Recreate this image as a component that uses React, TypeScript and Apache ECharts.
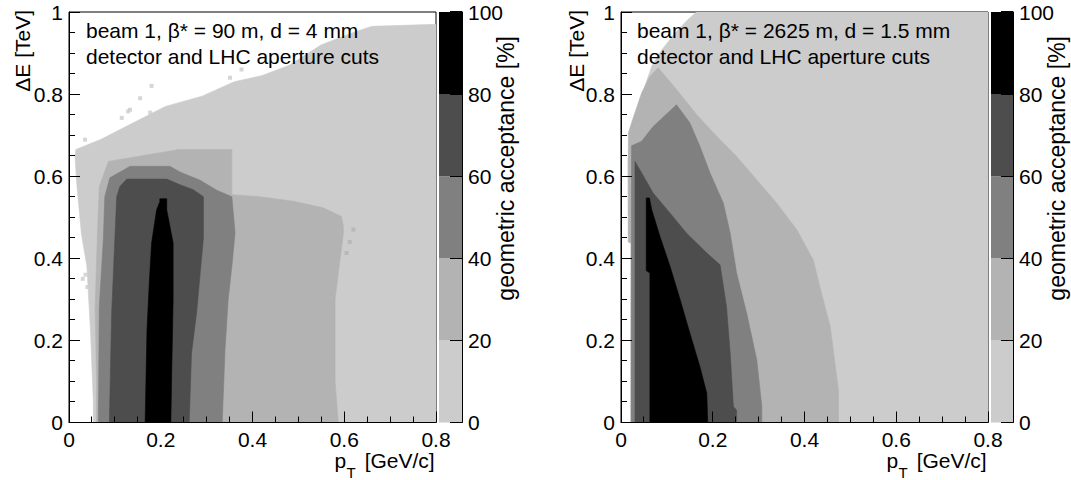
import { useEffect, useRef } from 'react';
import * as echarts from 'echarts';

// acceptance levels (%) and their grey shades
const levelEdges = [0, 20, 40, 60, 80, 100];
const levelColors = ['#cccccc', '#b3b3b3', '#808080', '#4d4d4d', '#000000'];

// ---- left panel: beam 1, beta* = 90 m, d = 4 mm ; region outlines [pT, dE] for acceptance >= level
const left0 = [[0.053, 0], [0.053, 0.05], [0.047, 0.22], [0.039, 0.38], [0.027, 0.46], [0.017, 0.58], [0.013, 0.65], [0.015, 0.665], [0.07, 0.69], [0.14, 0.73], [0.21, 0.77], [0.29, 0.795], [0.36, 0.83], [0.42, 0.845], [0.48, 0.87], [0.55, 0.92], [0.62, 0.95], [0.66, 0.965], [0.8, 0.97], [0.8, 0]];
const left20 = [[0.06, 0], [0.06, 0.1], [0.057, 0.28], [0.062, 0.46], [0.066, 0.575], [0.086, 0.636], [0.24, 0.665], [0.355, 0.665], [0.355, 0.555], [0.416, 0.55], [0.489, 0.539], [0.554, 0.523], [0.594, 0.502], [0.598, 0.478], [0.598, 0.46], [0.587, 0.364], [0.58, 0.3], [0.58, 0.1], [0.587, 0]];
const left40 = [[0.064, 0], [0.066, 0.28], [0.075, 0.45], [0.078, 0.55], [0.089, 0.596], [0.133, 0.624], [0.22, 0.624], [0.242, 0.61], [0.286, 0.59], [0.322, 0.566], [0.355, 0.55], [0.362, 0.462], [0.355, 0.38], [0.347, 0.3], [0.34, 0.176], [0.334, 0]];
const left60 = [[0.088, 0], [0.093, 0.266], [0.1, 0.45], [0.104, 0.55], [0.111, 0.575], [0.126, 0.593], [0.213, 0.593], [0.242, 0.579], [0.271, 0.567], [0.293, 0.55], [0.293, 0.45], [0.286, 0.364], [0.278, 0.266], [0.267, 0.168], [0.262, 0]];
const left80 = [[0.166, 0], [0.17, 0.226], [0.175, 0.34], [0.18, 0.437], [0.191, 0.518], [0.198, 0.538], [0.198, 0.545], [0.213, 0.545], [0.213, 0.518], [0.227, 0.437], [0.227, 0.3], [0.224, 0.13], [0.222, 0]];
// isolated low-statistics bins outside the main envelope (0-20 % and 20-40 %)
const leftSpeckles = [[0.035, 0.689], [0.115, 0.742], [0.129, 0.758], [0.133, 0.762], [0.155, 0.79], [0.177, 0.755], [0.18, 0.82], [0.235, 0.762], [0.351, 0.84], [0.376, 0.86], [0.03, 0.35], [0.04, 0.33], [0.036, 0.36]];
const leftSpeckles20 = [[0.62, 0.47], [0.605, 0.413], [0.612, 0.44]];

// ---- right panel: beam 1, beta* = 2625 m, d = 1.5 mm
const right0 = [[0.022, 0], [0.022, 0.437], [0.016, 0.44], [0.015, 0.64], [0.023, 0.705], [0.038, 0.762], [0.052, 0.819], [0.067, 0.868], [0.089, 0.908], [0.118, 0.949], [0.146, 0.982], [0.165, 1.0], [0.8, 1.0], [0.8, 0]];
const right20 = [[0.022, 0], [0.022, 0.437], [0.016, 0.44], [0.016, 0.705], [0.023, 0.73], [0.045, 0.803], [0.063, 0.843], [0.081, 0.864], [0.121, 0.811], [0.165, 0.75], [0.209, 0.697], [0.252, 0.648], [0.296, 0.591], [0.339, 0.535], [0.383, 0.47], [0.419, 0.396], [0.437, 0.315], [0.456, 0.234], [0.474, 0.079], [0.474, 0]];
const right40 = [[0.022, 0], [0.023, 0.674], [0.045, 0.685], [0.07, 0.721], [0.121, 0.774], [0.15, 0.73], [0.172, 0.673], [0.194, 0.608], [0.223, 0.535], [0.238, 0.461], [0.252, 0.364], [0.274, 0.266], [0.296, 0.152], [0.307, 0.039], [0.307, 0]];
const right60 = [[0.0305, 0], [0.0305, 0.636], [0.045, 0.608], [0.07, 0.559], [0.107, 0.51], [0.143, 0.461], [0.187, 0.413], [0.216, 0.384], [0.23, 0.282], [0.238, 0.169], [0.245, 0.039], [0.252, 0.03], [0.252, 0]];
const right80 = [[0.063, 0], [0.063, 0.364], [0.055, 0.37], [0.055, 0.547], [0.062, 0.547], [0.067, 0.518], [0.085, 0.453], [0.107, 0.38], [0.129, 0.299], [0.15, 0.218], [0.172, 0.136], [0.187, 0.071], [0.189, 0]];

const leftLevels = [left0, left20, left40, left60, left80];
const rightLevels = [right0, right20, right40, right60, right80];

const leftText = ['beam 1, β* = 90 m, d = 4 mm', 'detector and LHC aperture cuts'];
const rightText = ['beam 1, β* = 2625 m, d = 1.5 mm', 'detector and LHC aperture cuts'];

// axes
const xRange = [0, 0.8];
const yRange = [0, 1];
const zRange = [0, 100];
const xMajorTicks = [0, 0.2, 0.4, 0.6, 0.8];
const xMinorTicks = [0.05, 0.1, 0.15, 0.25, 0.3, 0.35, 0.45, 0.5, 0.55, 0.65, 0.7, 0.75];
const yMajorTicks = [0, 0.2, 0.4, 0.6, 0.8, 1];
const yMinorTicks = [0.05, 0.1, 0.15, 0.25, 0.3, 0.35, 0.45, 0.5, 0.55, 0.65, 0.7, 0.75, 0.85, 0.9, 0.95];
const zTicks = [0, 20, 40, 60, 80, 100];
const xTitle = ['p', 'T', '[GeV/c]'];
const yTitle = 'ΔE [TeV]';
const zTitle = 'geometric acceptance [%]';

const FONT = "'Liberation Sans', Arial, Helvetica, sans-serif";

const panels = [
  { levels: leftLevels, speck: [leftSpeckles, leftSpeckles20], text: leftText, left: 69, cbLeft: 439, cbWidth: 23, yTitleX: 22, zTitleX: 506, textX: 86 },
  { levels: rightLevels, speck: [[], []], text: rightText, left: 621, cbLeft: 991, cbWidth: 22, yTitleX: 576.5, zTitleX: 1057, textX: 637 },
];
const TOP = 12;
const PLOT_W = 367;
const PLOT_H = 410.5;
const MAJOR = 11;
const MINOR = 6;
const CB_TICK = 12;

export default function App() {
  const ref = useRef<HTMLDivElement>(null);
  useEffect(() => {
    if (!ref.current) return;
    const chart = echarts.init(ref.current, null, { renderer: 'svg' });
    const grid: any[] = [];
    const xAxis: any[] = [];
    const yAxis: any[] = [];
    const series: any[] = [];
    const graphic: any[] = [];
    const axisCommon = {
      type: 'value',
      z: 6,
      splitLine: { show: false },
      minorSplitLine: { show: false },
      axisTick: { show: false },
      minorTick: { show: false },
      axisLine: { show: true, onZero: false, lineStyle: { color: '#000', width: 1 } },
      axisLabel: { fontSize: 21, fontFamily: FONT, color: '#000', margin: 6 },
    };
    const txtStyle = (text: string, size: number, align: string, valign: string) => ({
      text, fill: '#000', fontSize: size, fontFamily: FONT,
      align, textAlign: align, verticalAlign: valign, textVerticalAlign: valign,
    });
    panels.forEach((p, k) => {
      const gMain = k * 2;
      const gBar = k * 2 + 1;
      grid.push({ left: p.left, top: TOP, width: PLOT_W, height: PLOT_H, show: true, borderColor: '#000', borderWidth: 1, backgroundColor: 'transparent' });
      grid.push({ left: p.cbLeft, top: TOP, width: p.cbWidth, height: PLOT_H, show: false });
      xAxis.push({ ...axisCommon, gridIndex: gMain, min: xRange[0], max: xRange[1], interval: 0.2 });
      yAxis.push({ ...axisCommon, gridIndex: gMain, min: yRange[0], max: yRange[1], interval: 0.2 });
      xAxis.push({ type: 'value', gridIndex: gBar, min: 0, max: 1, show: false });
      yAxis.push({ ...axisCommon, gridIndex: gBar, position: 'right', min: zRange[0], max: zRange[1], interval: 20 });
      const polys = p.levels;
      series.push({
        type: 'custom',
        xAxisIndex: gMain,
        yAxisIndex: gMain,
        clip: true,
        silent: true,
        z: 2,
        data: polys.map((poly) => [poly[0][0], poly[0][1]]),
        renderItem: (params: any, api: any) => {
          const idx = params.dataIndex;
          const pts = polys[idx].map((pt: number[]) => api.coord(pt));
          return {
            type: 'polygon',
            shape: { points: pts },
            style: { fill: levelColors[idx], stroke: levelColors[idx], lineWidth: 0.6 },
          };
        },
      });
      p.speck.forEach((pts, lvl) => {
        if (!pts.length) return;
        series.push({
          type: 'scatter',
          xAxisIndex: gMain,
          yAxisIndex: gMain,
          silent: true,
          z: 3,
          symbol: 'rect',
          symbolSize: [4, 4],
          itemStyle: { color: levelColors[lvl] },
          data: pts,
        });
      });
      series.push({
        type: 'custom',
        xAxisIndex: gBar,
        yAxisIndex: gBar,
        silent: true,
        z: 2,
        encode: { x: 0, y: [1, 2] },
        data: levelColors.map((_, i) => [0, levelEdges[i], levelEdges[i + 1]]),
        renderItem: (params: any, api: any) => {
          const a = api.coord([0, api.value(1)]);
          const b = api.coord([1, api.value(2)]);
          return {
            type: 'rect',
            shape: { x: a[0], y: b[1], width: b[0] - a[0], height: a[1] - b[1] },
            style: { fill: levelColors[params.dataIndex] },
          };
        },
      });
      p.text.forEach((t, i) => {
        graphic.push({ type: 'text', x: p.textX, y: 30 + i * 26, z: 20, style: txtStyle(t, 21, 'left', 'middle') });
      });
      graphic.push({ type: 'text', x: p.yTitleX, y: 10, rotation: Math.PI / 2, z: 20, style: txtStyle(yTitle, 21, 'right', 'middle') });
      graphic.push({ type: 'text', x: p.zTitleX, y: 36, rotation: Math.PI / 2, z: 20, style: txtStyle(zTitle, 23, 'right', 'middle') });
      const E = p.left + PLOT_W - 1.3;
      graphic.push({ type: 'text', x: E, y: 460, z: 20, style: txtStyle(xTitle[2], 21, 'right', 'middle') });
      graphic.push({ type: 'text', x: E - 79, y: 472.5, z: 20, style: txtStyle(xTitle[1], 15, 'right', 'middle') });
      graphic.push({ type: 'text', x: E - 88.5, y: 460, z: 20, style: txtStyle(xTitle[0], 21, 'right', 'middle') });
    });
    chart.setOption({
      animation: false,
      backgroundColor: '#ffffff',
      grid,
      xAxis,
      yAxis,
      series,
      graphic,
    });

    // inside tick marks, placed through the axes' own scales
    const ticks: any[] = [];
    const bar = (x: number, y: number, w: number, h: number) => ({
      type: 'rect', z: 30, silent: true, shape: { x, y, width: w, height: h }, style: { fill: '#000' },
    });
    panels.forEach((_, k) => {
      const gMain = k * 2;
      const gBar = k * 2 + 1;
      [...xMajorTicks, ...xMinorTicks].forEach((v, i) => {
        const len = i < xMajorTicks.length ? MAJOR : MINOR;
        const pt = chart.convertToPixel({ gridIndex: gMain }, [v, yRange[0]]) as number[];
        if (pt) ticks.push(bar(Math.round(pt[0] - 0.5), pt[1] - len, 1, len));
      });
      [...yMajorTicks, ...yMinorTicks].forEach((v, i) => {
        const len = i < yMajorTicks.length ? MAJOR : MINOR;
        const pt = chart.convertToPixel({ gridIndex: gMain }, [xRange[0], v]) as number[];
        if (pt) ticks.push(bar(pt[0], Math.round(pt[1] - 0.5), len, 1));
      });
      zTicks.forEach((v) => {
        const pt = chart.convertToPixel({ gridIndex: gBar }, [1, v]) as number[];
        if (pt) ticks.push(bar(pt[0] - CB_TICK, Math.round(pt[1] - 0.5), CB_TICK, 1));
      });
    });
    chart.setOption({ graphic: [...graphic, ...ticks] });
    return () => chart.dispose();
  }, []);
  return <div ref={ref} style={{ position: 'fixed', left: 0, top: 0, width: 1071, height: 480 }} />;
}
